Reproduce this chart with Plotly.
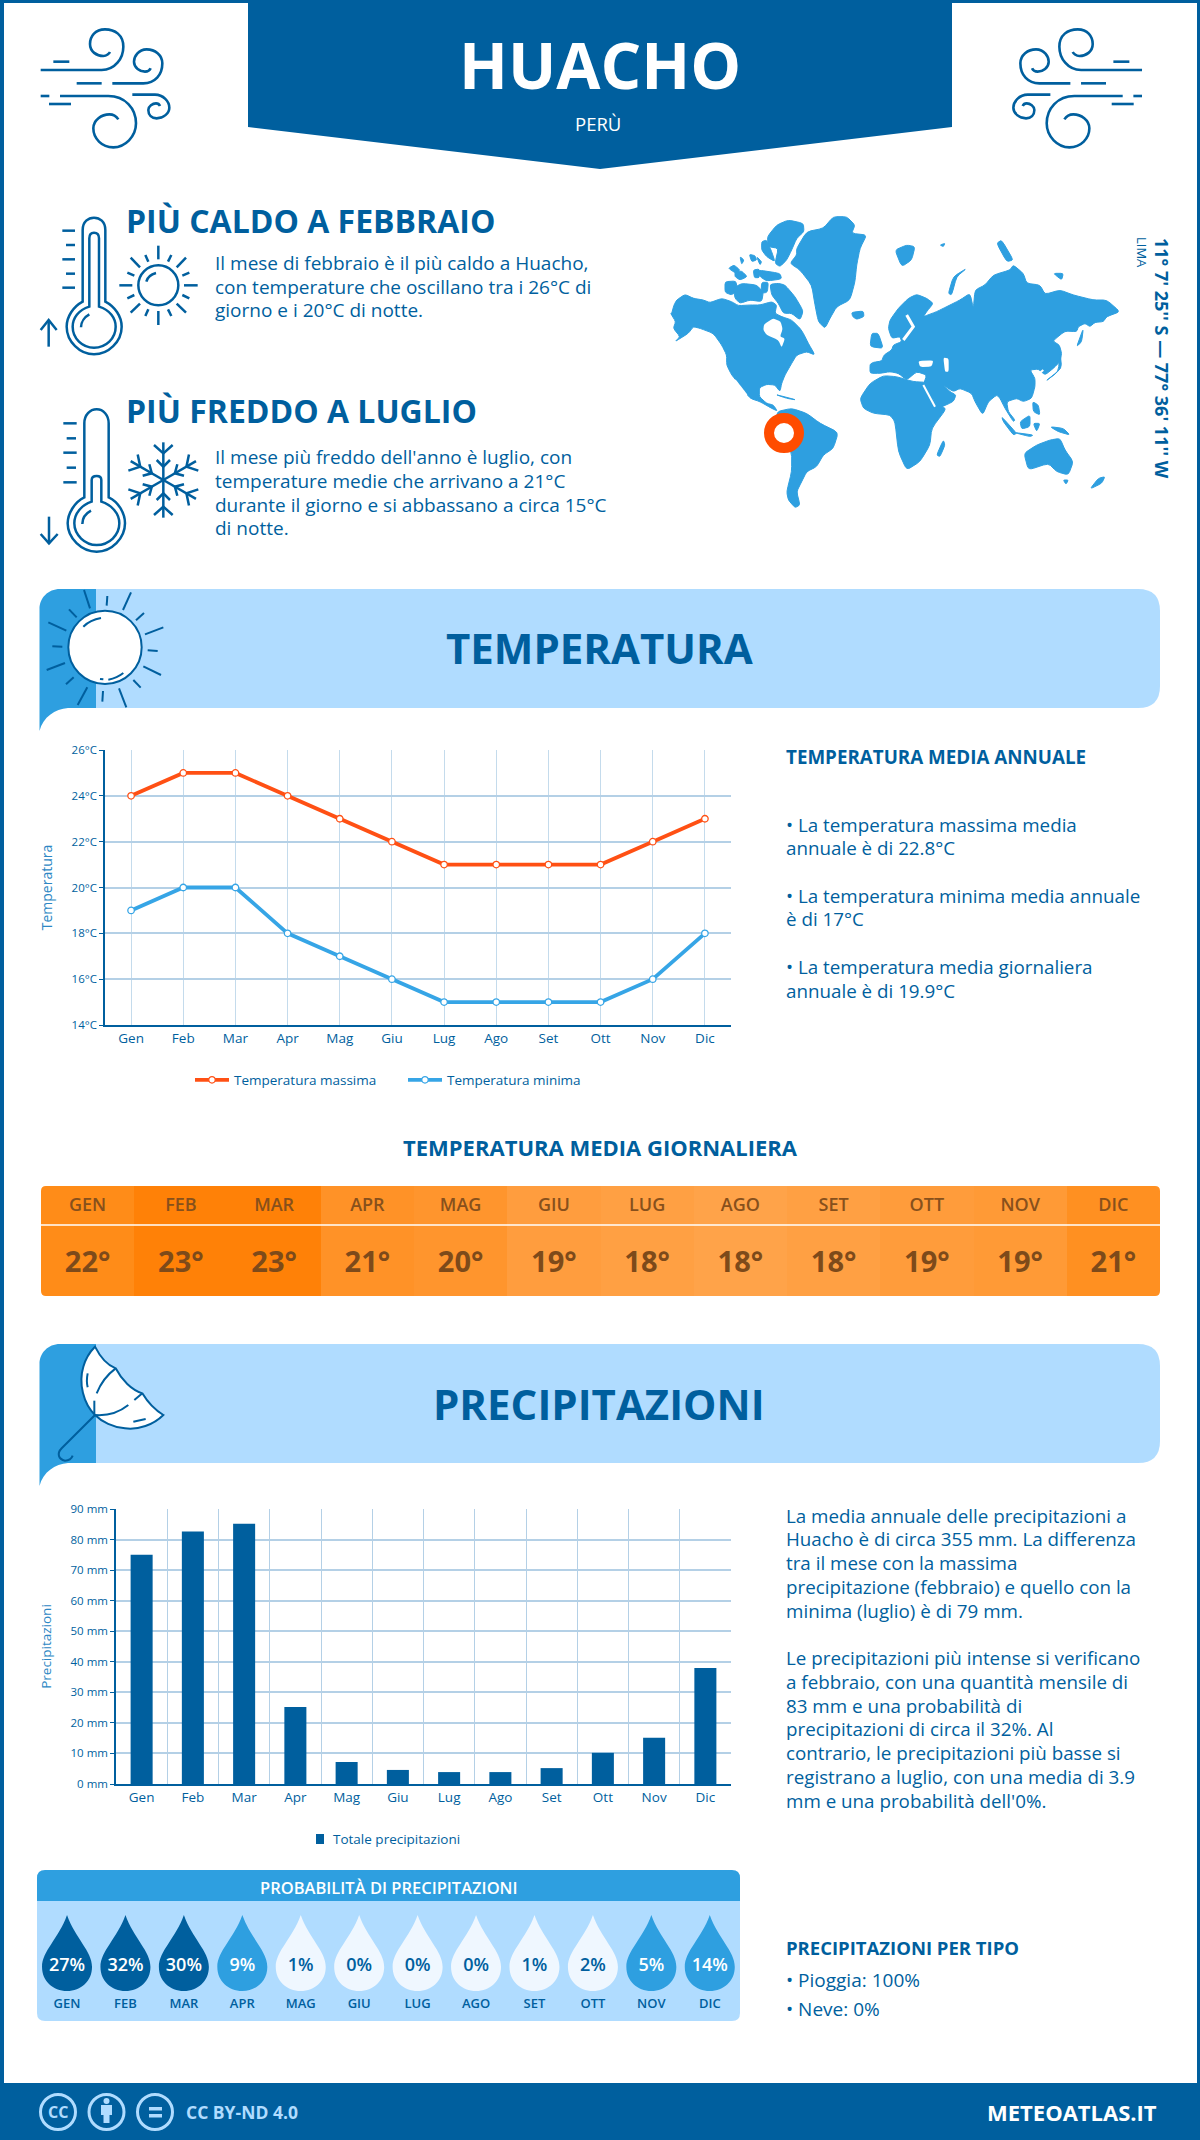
import re
import math
import plotly.graph_objects as go

# dati
mesi = ["Gen", "Feb", "Mar", "Apr", "Mag", "Giu", "Lug", "Ago", "Set", "Ott", "Nov", "Dic"]
mesi_upper = ["GEN", "FEB", "MAR", "APR", "MAG", "GIU", "LUG", "AGO", "SET", "OTT", "NOV", "DIC"]
temp_max = [24, 25, 25, 24, 23, 22, 21, 21, 21, 21, 22, 23]
temp_min = [19, 20, 20, 18, 17, 16, 15, 15, 15, 15, 16, 18]
temp_media = [22.0, 23.0, 23.0, 21.0, 20.2, 18.8, 18.4, 18.0, 18.4, 19.0, 19.4, 21.4]
precipitazioni = [75, 82.6, 85.2, 25.2, 7.2, 4.6, 3.9, 3.9, 5.2, 10.2, 15.1, 38]
probabilita = [27, 32, 30, 9, 1, 0, 0, 0, 1, 2, 5, 14]

BLU = "#005f9e"
AZZURRO = "#2e9fe0"
CHIARO = "#b0dcff"
ARANCIO = "#ff5014"
FONT = "Open Sans"
W, H = 1200, 2140

shapes = []
annots = []


def tr(d, ox, oy, sx=1 / 3, sy=1 / 3):
    # porta un path dalle coordinate del ritaglio a quelle della pagina
    def sub(m):
        return f"{ox + sx * float(m.group(1)):.2f},{oy + sy * float(m.group(2)):.2f}"
    return re.sub(r"(-?\d+\.?\d*),(-?\d+\.?\d*)", sub, d)


def liscio(testo, t=0.25):
    # smussa solo gli angoli del contorno, cosi' la forma non si restringe
    pts = [tuple(float(v) for v in c.split(",")) for c in testo.split()]
    n = len(pts)
    d = ""
    for i in range(n):
        prev, cur, nxt = pts[i - 1], pts[i], pts[(i + 1) % n]
        a = (cur[0] + (prev[0] - cur[0]) * t, cur[1] + (prev[1] - cur[1]) * t)
        b = (cur[0] + (nxt[0] - cur[0]) * t, cur[1] + (nxt[1] - cur[1]) * t)
        d += (f"M{a[0]},{a[1]}" if i == 0 else f" L{a[0]},{a[1]}") + f" Q{cur[0]},{cur[1]} {b[0]},{b[1]}"
    return d + " Z"


def add_path(d, fill=None, color=None, lw=0, layer="below", xref="x", yref="y", **kw):
    shapes.append(dict(type="path", path=d, xref=xref, yref=yref, layer=layer,
                       fillcolor=fill or "rgba(0,0,0,0)",
                       line=dict(color=color or "rgba(0,0,0,0)", width=lw), **kw))


def add_text(x, y, text, size, color=BLU, weight=400, anchor="left", angle=0, family=FONT):
    annots.append(dict(x=x, y=y, xref="x", yref="y", text=text, showarrow=False,
                       xanchor=anchor, yanchor="middle", textangle=angle, borderpad=0,
                       font=dict(family=family, size=size, color=color, weight=weight)))


def dom_x(a, b):
    return [a / W, b / W]


def dom_y(top, bottom):
    return [1 - bottom / H, 1 - top / H]


# cornice, testata, piede
add_path(f"M0,0 H{W} V3 H0 Z", fill=BLU)
add_path(f"M0,0 H4 V{H} H0 Z", fill=BLU)
add_path(f"M1197,0 H{W} V{H} H1197 Z", fill=BLU)
add_path("M248,0 H952 V127 L600,169 L248,127 Z", fill=BLU)
add_path(f"M0,2083 H{W} V{H} H0 Z", fill=BLU)

add_text(600, 64, "HUACHO", 64, "white", 700, "center")
add_text(598, 123, "PERÙ", 18.5, "white", 400, "center")

# icone vento
vento = [
    "M32,150 L215,150 C255,150 280,115 280,80 C280,45 255,28 225,28 C195,28 180,50 180,72 C180,95 200,108 220,108 C230,108 238,100 240,96",
    "M70,125 L118,125",
    "M140,190 L215,190",
    "M247,190 L340,190 C375,190 397,165 397,130 C397,105 375,88 350,88 C325,88 312,110 312,125 C312,143 330,155 345,155 C355,155 360,150 362,145",
    "M32,228 L58,228",
    "M90,228 L235,228 C285,228 318,265 318,310 C318,350 285,382 250,382 C215,382 190,355 190,325 C190,300 215,283 238,283 C250,283 260,290 265,298",
    "M57,252 L123,252",
    "M307,224 L375,224 C400,224 418,245 418,263 C418,280 400,295 380,295 C365,295 355,285 355,270 C355,258 368,250 378,250 C383,250 388,253 390,258",
]
for p in vento:
    add_path(tr(p, 30, 20), color=BLU, lw=2.6)
    add_path(tr(p, 1152.7, 20, sx=-1 / 3), color=BLU, lw=2.6)

# termometro caldo + sole
term1 = [
    "M158,290 L158,75 C158,50 175,38 192,38 C209,38 226,50 226,75 L226,290 C255,305 275,335 275,365 C275,410 235,448 192,448 C150,448 110,410 110,365 C110,335 130,305 158,290 Z",
    "M178,305 L178,100 C178,88 185,83 192,83 C200,83 207,88 207,100 L207,305 C240,315 257,340 257,365 C257,400 228,428 192,428 C157,428 128,400 128,365 C128,340 145,315 178,305 Z",
    "M153,367 C153,350 165,335 178,328",
    "M97,77 L135,77", "M108,120 L135,120", "M97,163 L135,163", "M108,206 L135,206", "M97,248 L135,248",
    "M56,425 L56,345", "M32,375 L56,345 L80,375",
    "M349,230 C352,218 363,208 378,204",
    "M385,122 L385,163", "M385,318 L385,360", "M268,241 L307,241", "M462,241 L503,241",
    "M302,158 L330,187", "M468,158 L440,187", "M302,323 L330,296", "M468,323 L440,296",
    "M346,150 L355,170", "M424,150 L414,170", "M292,203 L313,212", "M478,203 L457,212",
    "M292,280 L313,270", "M478,280 L457,270", "M346,333 L355,313", "M424,333 L414,313",
    "M325,241 C325,208 352,181 385,181 C418,181 445,208 445,241 C445,274 418,301 385,301 C352,301 325,274 325,241 Z",
]
for p in term1:
    add_path(tr(p, 30, 205), color=BLU, lw=2.5)

# termometro freddo + fiocco
term2 = [
    "M163,292 L163,70 C163,45 180,28 200,28 C220,28 236,45 236,70 L236,292 C265,305 285,340 285,370 C285,415 245,455 200,455 C155,455 113,415 113,370 C113,340 135,305 163,292 Z",
    "M185,305 L185,240 C185,230 192,228 200,228 C208,228 214,230 214,240 L214,305 C245,315 268,340 268,370 C268,405 238,435 200,435 C165,435 133,405 133,370 C133,340 155,315 185,305 Z",
    "M157,372 C157,355 168,340 183,332",
    "M100,70 L140,70", "M110,115 L138,115", "M100,158 L140,158", "M110,203 L138,203", "M100,247 L140,247",
    "M57,350 L57,430", "M32,402 L57,430 L83,402",
]
for p in term2:
    add_path(tr(p, 30, 400), color=BLU, lw=2.5)
for k in range(6):
    a = math.radians(60 * k)
    ca, sa = math.cos(a), math.sin(a)

    def rot(px, py):
        return f"{400 + px * ca - py * sa:.1f},{240 + px * sa + py * ca:.1f}"
    arm = [f"M{rot(0, 0)} L{rot(0, -113)}",
           f"M{rot(-28, -105)} L{rot(0, -80)} L{rot(28, -105)}",
           f"M{rot(-20, -60)} L{rot(0, -40)} L{rot(20, -60)}"]
    for p in arm:
        add_path(tr(p, 30, 400), color=BLU, lw=2.5)

add_text(125, 220, "PIÙ CALDO A FEBBRAIO", 32, BLU, 700)
add_text(125, 410, "PIÙ FREDDO A LUGLIO", 32, BLU, 700)
caldo = ["Il mese di febbraio è il più caldo a Huacho,",
         "con temperature che oscillano tra i 26°C di",
         "giorno e i 20°C di notte."]
freddo = ["Il mese più freddo dell'anno è luglio, con",
          "temperature medie che arrivano a 21°C",
          "durante il giorno e si abbassano a circa 15°C",
          "di notte."]
for i, t in enumerate(caldo):
    add_text(214, 263 + i * 23.6, t, 19, BLU)
for i, t in enumerate(freddo):
    add_text(214, 457 + i * 23.8, t, 19, BLU)

# mappa del mondo (contorno indicativo, coordinate del ritaglio)
terre = [
    # nord america
    "35,325 42,300 50,285 75,268 100,280 130,285 150,293 185,280 215,290 235,302 270,300 300,300 335,290 350,300 345,325 365,335 395,345 420,370 430,385 445,415 465,450 440,440 410,450 395,475 375,510 365,535 360,560 345,540 320,538 298,548 298,575 320,595 340,600 352,618 335,610 300,590 270,580 240,540 215,510 200,480 200,450 185,420 160,385 120,370 100,365 85,385 45,410 60,395 40,370 47,350 32,325",
    # artico canadese
    "322,95 350,60 385,45 430,55 432,80 410,100 395,135 380,165 360,185 345,175 355,130 325,125",
    "305,110 320,105 335,140 345,170 320,155 305,135",
    "295,195 360,205 365,222 320,228 300,215",
    "205,190 222,180 240,195 228,205",
    "225,200 245,198 262,215 240,225 225,215",
    "240,155 252,165 245,178",
    "268,148 285,152 290,165 275,170",
    "290,155 305,170 300,180",
    "280,195 298,192 298,218 283,218",
    "195,230 228,228 232,255 215,270 195,262",
    "220,250 245,235 290,240 310,262 305,290 270,285 240,295 225,280",
    "305,232 325,232 322,262 303,265",
    "330,238 355,235 375,240 405,275 430,318 420,345 395,325 370,325 355,295 335,270",
    # groenlandia, islanda
    "410,130 440,80 490,70 520,35 560,35 585,60 575,85 620,90 600,130 590,180 585,230 570,285 530,305 510,340 495,370 475,350 465,300 455,240 420,195 390,175 410,150",
    "575,322 610,318 612,335 590,343 578,335",
    # sud america
    "350,620 395,610 440,625 480,655 535,682 520,730 490,750 470,785 440,800 425,830 410,860 420,900 405,908 385,885 380,860 395,800 395,740 350,690",
    # africa
    "600,580 630,535 670,512 710,515 760,530 800,532 825,600 860,610 815,670 810,720 780,770 740,795 715,740 705,650 690,630 640,625 610,610",
    # eurasia
    "630,478 640,472 665,468 672,450 695,435 700,420 725,410 720,395 695,400 685,370 690,345 715,310 745,280 770,268 800,280 820,295 800,320 790,335 830,320 860,305 900,285 930,265 940,310 945,255 975,240 1000,210 1050,195 1060,180 1090,205 1100,235 1140,240 1155,268 1200,255 1240,270 1300,285 1340,285 1380,320 1340,335 1330,350 1305,352 1290,365 1275,355 1255,365 1250,380 1215,378 1178,408 1198,420 1205,445 1200,470 1180,490 1155,510 1135,492 1110,495 1125,520 1125,545 1115,580 1090,590 1070,580 1040,590 1045,620 1065,645 1060,650 1035,610 1020,580 1010,570 985,590 968,630 945,590 935,565 900,550 880,560 850,540 870,560 888,570 880,590 835,610 815,575 790,540 800,510 770,500 740,525 715,505 690,500 660,505 630,505",
    # isole
    "635,385 655,385 670,430 630,425",
    "1270,370 1250,425 1265,410",
    "1200,440 1205,490 1155,530 1195,500",
    "865,265 880,215 920,190 890,215 875,270",
    "705,135 740,120 765,125 755,165 725,185",
    "840,120 855,115 850,125",
    "1010,115 1025,105 1060,165 1040,170",
    "1180,205 1210,205 1205,225",
    "830,750 850,705 855,720 840,755",
    "1092,745 1130,720 1170,705 1200,700 1215,735 1240,770 1225,810 1190,800 1165,775 1105,795",
    "1210,825 1225,825 1218,838",
    "1290,852 1315,820 1335,815 1325,835",
    "1025,635 1070,685 1060,690 1030,650",
    "1080,650 1110,630 1110,665 1085,672",
    "1060,682 1120,690 1110,695",
    "1120,655 1140,655 1130,680",
    "1170,665 1210,670 1230,690 1195,680",
    "1118,590 1135,600 1140,630 1120,620",
    "345,568 410,585 380,580",
]
for t in terre:
    add_path(tr(liscio(t), 660, 205), fill=AZZURRO, color=AZZURRO, lw=1)
acque = [
    "312,358 340,340 362,350 368,372 360,395 375,400 365,428 355,405 320,390 310,375",
    "775,468 820,466 815,485 780,486",
    "850,458 866,460 866,500 855,500",
]
for t in acque:
    add_path(tr(liscio(t), 660, 205), fill="white")
linee_acqua = [
    ("M740,330 L760,365 L730,405", 3),
    ("M790,540 L825,605", 2),
    ("M225,525 L260,570", 1.5),
    ("M1150,495 L1125,515", 2),
]
for d, lw in linee_acqua:
    add_path(tr(d, 660, 205), color="white", lw=lw)
shapes.append(dict(type="circle", xref="x", yref="y", layer="below", x0=769, x1=799, y0=418, y1=448,
                   fillcolor="white", line=dict(color="#ff4c00", width=10)))

add_text(1162, 358, "11° 7' 25'' S — 77° 36' 11'' W", 18, BLU, 700, "center", 90)
add_text(1142, 252, "LIMA", 13, BLU, 400, "center", 90)


# fasce di sezione
def fascia(top):
    bottom = top + 119
    add_path(f"M96,{top} H1138 Q1160,{top} 1160,{top + 22} V{bottom - 22} Q1160,{bottom} 1138,{bottom} H96 Z", fill=CHIARO)
    add_path(f"M39.5,{bottom + 23} V{top + 20} C39.5,{top + 9} 48,{top} 60,{top} H96 V{bottom} H68 "
             f"C55,{bottom + 1} 43,{bottom + 9} 39.5,{bottom + 23} Z", fill=AZZURRO)


fascia(589)
fascia(1344)
add_text(599, 647, "TEMPERATURA", 42, BLU, 700, "center")
add_text(599, 1403, "PRECIPITAZIONI", 42, BLU, 700, "center")

# sole della fascia
add_path(tr("M100,187 C100,126 149,77 210,77 C271,77 320,126 320,187 C320,248 271,297 210,297 C149,297 100,248 100,187 Z", 35, 585),
         fill="white", color=BLU, lw=2)
raggi = ["M145,125 C160,110 180,102 198,99", "M195,282 L205,283", "M220,284 C240,280 255,272 265,264",
         "M147,15 L165,70", "M217,33 L215,62", "M288,22 L264,75", "M327,84 L303,106", "M385,127 L330,148",
         "M338,196 L368,198", "M325,244 L378,270", "M295,285 L317,308", "M252,310 L274,367", "M204,318 L202,350",
         "M157,307 L128,360", "M116,277 L93,298", "M90,234 L35,255", "M52,184 L82,185", "M40,112 L94,137", "M102,73 L125,97"]
for p in raggi:
    add_path(tr(p, 35, 585), color=BLU, lw=2)

# ombrello della fascia
add_path(tr("M180,20 C195,50 215,75 242,85 C260,120 290,150 322,160 C340,190 360,210 385,225 C355,255 310,270 270,265 C235,262 200,245 180,225 C145,190 130,130 145,80 C152,55 165,35 180,20 Z", 35, 1340),
         fill="white", color=BLU, lw=2)
ombrello = ["M242,85 C215,105 195,135 185,160", "M178,182 L178,222", "M180,225 C220,228 255,215 280,195",
            "M298,180 L322,160", "M158,100 C155,115 155,130 158,142", "M295,245 L332,237",
            "M180,225 L80,325 C65,340 70,358 90,362 C103,362 110,355 113,347"]
for p in ombrello:
    add_path(tr(p, 35, 1340), color=BLU, lw=2)

# testi a destra
add_text(784.5, 757, "TEMPERATURA MEDIA ANNUALE", 18.8, BLU, 700)
blocchi = [(825, "• La temperatura massima media"), (848, "annuale è di 22.8°C"),
           (896, "• La temperatura minima media annuale"), (919, "è di 17°C"),
           (967, "• La temperatura media giornaliera"), (991, "annuale è di 19.9°C")]
for y, t in blocchi:
    add_text(784.5, y, t, 18.8, BLU)
add_text(600, 1147, "TEMPERATURA MEDIA GIORNALIERA", 22, BLU, 700, "center")

testo_prec = [(1516, "La media annuale delle precipitazioni a"), (1539, "Huacho è di circa 355 mm. La differenza"),
              (1563, "tra il mese con la massima"), (1587, "precipitazione (febbraio) e quello con la"),
              (1611, "minima (luglio) è di 79 mm."),
              (1658, "Le precipitazioni più intense si verificano"), (1682, "a febbraio, con una quantità mensile di"),
              (1706, "83 mm e una probabilità di"), (1729, "precipitazioni di circa il 32%. Al"),
              (1753, "contrario, le precipitazioni più basse si"), (1777, "registrano a luglio, con una media di 3.9"),
              (1801, "mm e una probabilità dell'0%.")]
for y, t in testo_prec:
    add_text(784.5, y, t, 18.8, BLU)
add_text(784.5, 1947, "PRECIPITAZIONI PER TIPO", 18.5, BLU, 700)
add_text(784.5, 1980, "• Pioggia: 100%", 19, BLU)
add_text(784.5, 2009, "• Neve: 0%", 19, BLU)

# legenda delle barre
add_path("M316,1834 H324 V1844 H316 Z", fill=BLU)
add_text(332, 1839, "Totale precipitazioni", 13.5, BLU)

# riquadro probabilità
add_path("M37,1901 V1878 Q37,1870 45,1870 H732 Q740,1870 740,1878 V1901 Z", fill=AZZURRO)
add_path("M37,1901 H740 V2013 Q740,2021 732,2021 H45 Q37,2021 37,2013 Z", fill=CHIARO)
add_text(389, 1887, "PROBABILITÀ DI PRECIPITAZIONI", 16.5, "white", 600, "center")

GOCCIA = "M0,51 C8,28 25,15 25,-1 C25,-15 14,-25 0,-25 C-14,-25 -25,-15 -25,-1 C-25,15 -8,28 0,51 Z"
for i, p in enumerate(probabilita):
    col = BLU if p >= 20 else (AZZURRO if p >= 5 else "#eff7ff")
    add_path(GOCCIA, fill=col, xref="x5", yref="y5", xsizemode="pixel", ysizemode="pixel", xanchor=i, yanchor=0)

# angoli arrotondati striscia
for cx, cy, sx, sy in [(41, 1186, 1, 1), (1160, 1186, -1, 1), (41, 1296, 1, -1), (1160, 1296, -1, -1)]:
    add_path(f"M{cx},{cy} H{cx + 5 * sx} Q{cx},{cy} {cx},{cy + 5 * sy} Z", fill="white", layer="above")
add_path("M41,1225 H1160", color="white", lw=1.5, layer="above")

# piede
for cx in (58, 106.5, 155):
    shapes.append(dict(type="circle", xref="x", yref="y", layer="below", x0=cx - 17.5, x1=cx + 17.5,
                       y0=2112 - 17.5, y1=2112 + 17.5, line=dict(color=CHIARO, width=3)))
shapes.append(dict(type="circle", xref="x", yref="y", layer="below", x0=103.5, x1=109.5, y0=2098, y1=2104,
                   fillcolor=CHIARO, line=dict(width=0)))
add_path("M101,2105 H112 V2115 H109.5 V2123 H103.5 V2115 H101 Z", fill=CHIARO)
add_path("M149,2107 H162 V2110.5 H149 Z", fill=CHIARO)
add_path("M149,2114 H162 V2117.5 H149 Z", fill=CHIARO)
add_text(58, 2112, "CC", 16, CHIARO, 700, "center")
add_text(185, 2112, "CC BY-ND 4.0", 17.5, CHIARO, 700)
add_text(1158, 2112, "METEOATLAS.IT", 22, "white", 700, "right")

# figura
fig = go.Figure()
fig.add_trace(go.Scatter(x=[], y=[], xaxis="x", yaxis="y", showlegend=False))

marker_bianco = lambda c: dict(size=6.5, color="white", line=dict(color=c, width=1.3))
fig.add_trace(go.Scatter(x=mesi, y=temp_max, name="Temperatura massima", mode="lines+markers",
                         line=dict(color=ARANCIO, width=3.8), marker=marker_bianco(ARANCIO),
                         xaxis="x2", yaxis="y2", legend="legend"))
fig.add_trace(go.Scatter(x=mesi, y=temp_min, name="Temperatura minima", mode="lines+markers",
                         line=dict(color="#36a5e6", width=3.8), marker=marker_bianco("#36a5e6"),
                         xaxis="x2", yaxis="y2", legend="legend"))

fig.add_trace(go.Heatmap(x=mesi_upper, y=[0], z=[temp_media], showscale=False, zmin=18, zmax=23, xgap=0,
                         colorscale=[[0, "#ffa349"], [0.2, "#ff9c3b"], [0.4, "#ff962e"],
                                     [0.6, "#ff9227"], [0.8, "#ff8c18"], [1, "#ff8107"]],
                         xaxis="x3", yaxis="y3"))
fig.add_trace(go.Scatter(x=mesi_upper, y=[0.31] * 12, text=mesi_upper, mode="text", showlegend=False,
                         textfont=dict(family=FONT, size=18, color="#87501c", weight=600),
                         xaxis="x3", yaxis="y3"))
fig.add_trace(go.Scatter(x=mesi_upper, y=[-0.218] * 12, text=[f"{round(t)}°" for t in temp_media],
                         mode="text", showlegend=False,
                         textfont=dict(family=FONT, size=29, color="#7d4a1a", weight=700),
                         xaxis="x3", yaxis="y3"))

fig.add_trace(go.Bar(x=mesi, y=precipitazioni, showlegend=False, marker_color=BLU,
                     xaxis="x4", yaxis="y4"))

fig.add_trace(go.Scatter(x=list(range(12)), y=[0] * 12, text=[f"{p}%" for p in probabilita], mode="text",
                         showlegend=False,
                         textfont=dict(family=FONT, size=18, weight=600,
                                       color=["white" if p >= 5 else BLU for p in probabilita]),
                         xaxis="x5", yaxis="y5"))
fig.add_trace(go.Scatter(x=list(range(12)), y=[-1] * 12, text=mesi_upper, mode="text", showlegend=False,
                         textfont=dict(family=FONT, size=13, color=BLU, weight=600),
                         xaxis="x5", yaxis="y5"))

assi_off = dict(visible=False, fixedrange=True, showgrid=False, zeroline=False)
griglia = "#b4d0e6"
font_x = dict(family=FONT, size=13.5, color=BLU)
font_y = dict(family=FONT, size=11.5, color=BLU)
fig.update_layout(
    template="none",
    width=W, height=H, autosize=False, margin=dict(l=0, r=0, t=0, b=0, pad=0),
    paper_bgcolor="white", plot_bgcolor="rgba(0,0,0,0)", shapes=shapes, annotations=annots,
    bargap=0.57,
    xaxis=dict(domain=[0, 1], range=[0, W], anchor="y", **assi_off),
    yaxis=dict(domain=[0, 1], range=[H, 0], anchor="x", **assi_off),
    xaxis2=dict(domain=dom_x(105, 731), anchor="y2", range=[-0.5, 11.5], tickfont=font_x, showgrid=True,
                gridcolor="#c4dbec", gridwidth=1, showline=True, linecolor=BLU, linewidth=1.5, ticks=""),
    yaxis2=dict(domain=dom_y(750, 1025), anchor="x2", range=[14, 26], dtick=2, ticksuffix="°C", tickfont=font_y,
                gridcolor=griglia, gridwidth=1.5, showline=True, linecolor=BLU, linewidth=1.5, ticks="outside",
                ticklen=4, tickcolor=BLU, zeroline=False,
                title=dict(text="Temperatura", font=dict(family=FONT, size=14, color="#2d87c4"), standoff=16)),
    xaxis3=dict(domain=dom_x(41, 1160), anchor="y3", range=[-0.5, 11.5], visible=False, fixedrange=True),
    yaxis3=dict(domain=dom_y(1186, 1296), anchor="x3", range=[-0.5, 0.5], visible=False, fixedrange=True),
    xaxis4=dict(domain=dom_x(116, 731), anchor="y4", range=[-0.5, 11.5], tickfont=font_x, showgrid=True,
                tickson="boundaries", gridcolor=griglia, gridwidth=1.2, showline=True, linecolor=BLU,
                linewidth=1.5, ticks=""),
    yaxis4=dict(domain=dom_y(1509, 1784), anchor="x4", range=[0, 90], dtick=10, ticksuffix=" mm", tickfont=font_y,
                gridcolor=griglia, gridwidth=1.5, showline=True, linecolor=BLU, linewidth=1.5, ticks="outside",
                ticklen=4, tickcolor=BLU, zeroline=False,
                title=dict(text="Precipitazioni", font=dict(family=FONT, size=13.5, color="#2d87c4"), standoff=16)),
    xaxis5=dict(domain=dom_x(37.8, 739), anchor="y5", range=[-0.5, 11.5], **assi_off),
    yaxis5=dict(domain=dom_y(1901, 2021), anchor="x5", range=[-1.41, 1.667], **assi_off),
    legend=dict(x=190 / W, y=1 - 1080 / H, xanchor="left", yanchor="middle", orientation="h", itemwidth=34,
                entrywidth=164, entrywidthmode="pixels",
                font=dict(family=FONT, size=13.5, color=BLU), bgcolor="rgba(0,0,0,0)"),
)

fig.write_html("out.html", config=dict(displayModeBar=False),
               post_script="document.body.style.margin='0';")
